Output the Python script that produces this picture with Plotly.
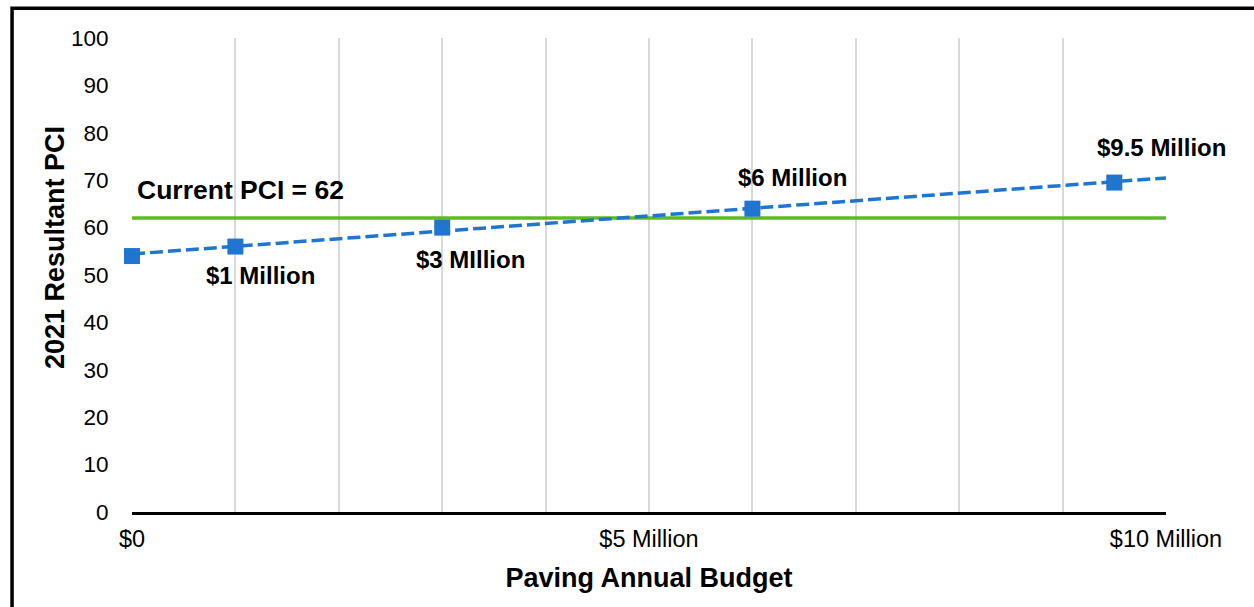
import numpy as np
import plotly.graph_objects as go

# Data
budget_millions = [0, 1, 3, 6, 9.5]
resultant_pci = [54, 56, 60, 64, 69.5]
point_labels = ["", "$1 Million", "$3 MIllion", "$6 Million", "$9.5 Million"]
current_pci = 62
x_tick_vals = [0, 1, 2, 3, 4, 5, 6, 7, 8, 9, 10]
x_tick_text = ["$0", "", "", "", "", "$5 Million", "", "", "", "", "$10 Million"]
y_tick_vals = [0, 10, 20, 30, 40, 50, 60, 70, 80, 90, 100]

FONT = "Liberation Sans, Arial, sans-serif"
BLUE = "#1F75D0"
GREEN = "#5EBB1E"

# Linear trendline (least squares) over the points, drawn across the axis range
slope, intercept = np.polyfit(budget_millions, resultant_pci, 1)
trend_x = [0, 10]
trend_y = [intercept + slope * v for v in trend_x]

fig = go.Figure()

fig.add_trace(go.Scatter(
    x=[0, 10], y=[current_pci, current_pci], mode="lines",
    line=dict(color=GREEN, width=3.5), hoverinfo="skip", showlegend=False,
    cliponaxis=False))

fig.add_trace(go.Scatter(
    x=trend_x, y=trend_y, mode="lines",
    line=dict(color=BLUE, width=3.5, dash="13px,5px"), hoverinfo="skip", showlegend=False,
    cliponaxis=False))

fig.add_trace(go.Scatter(
    x=budget_millions, y=resultant_pci, mode="markers",
    marker=dict(symbol="square", size=16, color=BLUE),
    showlegend=False, cliponaxis=False))

ann = [
    dict(x=0.03, y=67.9, text="<b>Current PCI = 62</b>", xanchor="left", size=26.5),
    dict(x=1.24, y=49.8, text="<b>" + point_labels[1] + "</b>", xanchor="center", size=24),
    dict(x=3.27, y=53.2, text="<b>" + point_labels[2] + "</b>", xanchor="center", size=24),
    dict(x=6.39, y=70.5, text="<b>" + point_labels[3] + "</b>", xanchor="center", size=24),
    dict(x=9.96, y=76.8, text="<b>" + point_labels[4] + "</b>", xanchor="center", size=24),
]
for a in ann:
    fig.add_annotation(x=a["x"], y=a["y"], text=a["text"], xanchor=a["xanchor"],
                       yanchor="middle", showarrow=False,
                       font=dict(family=FONT, size=a["size"], color="black"))

# Y axis title (positioned as in the reference, slightly above plot centre)
fig.add_annotation(xref="paper", yref="paper", x=-0.0745, y=0.559,
                   text="<b>2021 Resultant PCI</b>", textangle=-90,
                   xanchor="center", yanchor="middle", showarrow=False,
                   font=dict(family=FONT, size=27, color="black"))

# Outer frame (left and top edges visible)
fig.add_shape(type="rect", xref="paper", yref="paper",
              x0=-0.116, x1=1.3, y0=-0.4, y1=1.063,
              line=dict(color="black", width=3.5), layer="above")

fig.update_layout(
    width=1254, height=607,
    margin=dict(l=132, r=88, t=38, b=95, autoexpand=False),
    paper_bgcolor="white", plot_bgcolor="white",
    font=dict(family=FONT, color="black"),
)

fig.update_xaxes(
    range=[0, 10], tickvals=x_tick_vals, ticktext=x_tick_text,
    showgrid=True, gridcolor="#D9D9D9", gridwidth=1.5,
    showline=True, linecolor="black", linewidth=2.5,
    ticks="outside", ticklen=4, tickcolor="rgba(0,0,0,0)",
    tickfont=dict(family=FONT, size=23.5, color="black"),
    zeroline=False,
    title=dict(text="<b>Paving Annual Budget</b>", standoff=18,
               font=dict(family=FONT, size=27, color="black")),
)
fig.update_yaxes(
    range=[0, 100], tickvals=y_tick_vals,
    showgrid=False, showline=False, zeroline=False,
    ticks="outside", ticklen=18, tickcolor="rgba(0,0,0,0)",
    tickfont=dict(family=FONT, size=22.5, color="black"),
)

fig.write_html("out.html", config={"displayModeBar": False},
               post_script="document.body.style.margin='0';document.body.style.overflow='hidden';")
